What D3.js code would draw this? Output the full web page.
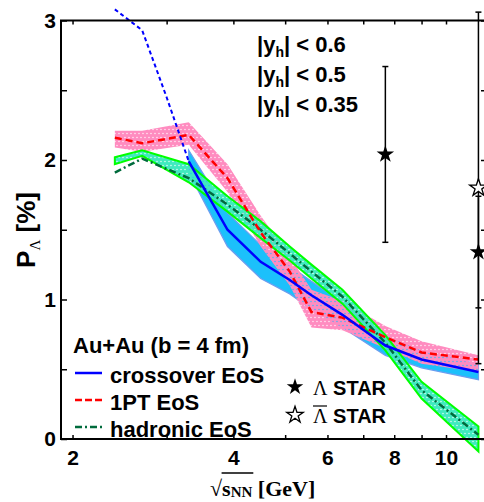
<!DOCTYPE html><html><head><meta charset="utf-8">
<script src="https://cdnjs.cloudflare.com/ajax/libs/d3/7.8.5/d3.min.js"></script>
<style>
body { margin: 0; background: #fff; }
text { font-family: "Liberation Sans", Arial, sans-serif; font-weight: bold; fill: #000; }
</style>
</head>
<body><svg id="chart"></svg>
<script>

// crossover EoS (dashed part at low energy, solid + band above)
var eCrossDash = [2.4, 2.7, 3.0, 3.3],
    pCrossDash = [3.08, 2.93, 2.45, 1.99];
var eCross  = [3.3, 3.9, 4.5, 5.1, 5.6, 6.4, 7.7, 9.0, 11.5],
    pCross  = [1.99, 1.50, 1.27, 1.14, 1.03, 0.89, 0.67, 0.57, 0.48],
    loCross = [1.91, 1.38, 1.15, 1.04, 0.93, 0.80, 0.60, 0.51, 0.425],
    hiCross = [2.07, 1.62, 1.39, 1.24, 1.13, 0.98, 0.74, 0.63, 0.535];

// 1PT EoS
var e1pt  = [2.4, 2.7, 3.3, 3.9, 4.5, 5.1, 5.6, 6.4, 7.7, 9.0, 11.5],
    p1pt  = [2.16, 2.12, 2.18, 1.87, 1.48, 1.20, 0.91, 0.87, 0.73, 0.62, 0.57],
    lo1pt = [2.09, 2.06, 2.11, 1.77, 1.38, 1.10, 0.80, 0.78, 0.65, 0.54, 0.48],
    hi1pt = [2.21, 2.21, 2.27, 1.97, 1.60, 1.31, 1.07, 0.99, 0.81, 0.70, 0.60];

// hadronic EoS
var eHad  = [2.4, 2.7, 3.3, 3.9, 4.5, 5.1, 5.6, 6.4, 7.7, 9.0, 11.5],
    pHad  = [1.91, 2.01, 1.87, 1.68, 1.50, 1.33, 1.20, 1.02, 0.69, 0.35, 0.03],
    loHad = [1.97, 2.03, 1.84, 1.63, 1.44, 1.28, 1.15, 0.97, 0.635, 0.29, -0.09],
    hiHad = [2.02, 2.07, 1.97, 1.74, 1.56, 1.38, 1.25, 1.07, 0.745, 0.41, 0.09];

// STAR data
var starE      = [7.7, 11.5],
    starLam    = [2.04, 1.34],
    starLamErr = [0.63, 0.40];
var starBarE      = [11.5],
    starLamBar    = [1.80],
    starLamBarErr = [1.26];

var xTicks  = [2, 3, 4, 5, 6, 7, 8, 9, 10],
    xLabels = [2, 4, 6, 8, 10];
var yTicks  = [0, 0.5, 1, 1.5, 2, 2.5, 3],
    yLabels = [0, 1, 2, 3];
var yhCuts = ["0.6", "0.5", "0.35"];
var modelNames = ["crossover EoS", "1PT EoS", "hadronic EoS"];

var W = 484, H = 502;
var svg = d3.select("#chart").attr("width", W).attr("height", H);

var x = d3.scaleLog().domain([1.903, 11.83]).range([61, 485]);
var y = d3.scaleLinear().domain([0, 3]).range([439, 20.5]);

function rows(e, p, lo, hi) {
  return e.map(function(d, i) { return {e: d, p: p[i], lo: lo ? lo[i] : 0, hi: hi ? hi[i] : 0}; });
}
var cross = rows(eCross, pCross, loCross, hiCross),
    crossDash = rows(eCrossDash, pCrossDash),
    pt1 = rows(e1pt, p1pt, lo1pt, hi1pt),
    had = rows(eHad, pHad, loHad, hiHad);

// dotted mask (holes in the band fill)
var defs = svg.append("defs");
var pat = defs.append("pattern").attr("id", "dotsP")
  .attr("patternUnits", "userSpaceOnUse").attr("width", 4).attr("height", 8);
pat.append("rect").attr("width", 4).attr("height", 8).attr("fill", "white");
pat.append("circle").attr("cx", 1).attr("cy", 1.5).attr("r", 0.65).attr("fill", "black");
pat.append("circle").attr("cx", 3).attr("cy", 5.5).attr("r", 0.65).attr("fill", "black");
defs.append("mask").attr("id", "dotMask")
  .attr("maskUnits", "userSpaceOnUse").attr("x", 0).attr("y", 0).attr("width", W).attr("height", H)
  .append("rect").attr("width", W).attr("height", H).attr("fill", "url(#dotsP)");

var area = d3.area().x(function(d) { return x(d.e); })
  .y0(function(d) { return y(d.lo); }).y1(function(d) { return y(d.hi); });
var line = d3.line().x(function(d) { return x(d.e); }).y(function(d) { return y(d.p); });

// bands
svg.append("path").datum(cross).attr("d", area)
  .attr("fill", "#1cc0fb").attr("stroke", "#6a9ef0").attr("stroke-width", 1.3);
svg.append("path").datum(pt1).attr("d", area)
  .attr("fill", "#ff8cc0").attr("mask", "url(#dotMask)");
svg.append("path").datum(had).attr("d", area)
  .attr("fill", "#40eabf").attr("mask", "url(#dotMask)");
svg.append("path").datum(had).attr("d", area)
  .attr("fill", "none").attr("stroke", "#00ff00").attr("stroke-width", 2);

// lines
svg.append("path").datum(had).attr("d", line)
  .attr("fill", "none").attr("stroke", "#006b3c").attr("stroke-width", 2.5)
  .attr("stroke-dasharray", "7,3,2,3");
svg.append("path").datum(pt1).attr("d", line)
  .attr("fill", "none").attr("stroke", "#ff0000").attr("stroke-width", 2.5)
  .attr("stroke-dasharray", "7,4");
svg.append("path").datum(cross).attr("d", line)
  .attr("fill", "none").attr("stroke", "#0000ff").attr("stroke-width", 2.5);
svg.append("path").datum(crossDash).attr("d", line)
  .attr("fill", "none").attr("stroke", "#0000ff").attr("stroke-width", 2)
  .attr("stroke-dasharray", "4,3");

// axes
function styleAxis(g) {
  g.select(".domain").remove();
  g.attr("font-size", 21).attr("font-family", "Liberation Sans, Arial, sans-serif");
  g.selectAll(".tick line").attr("stroke", "#000").attr("stroke-width", 1.5);
}
svg.append("g").attr("transform", "translate(0,439)")
  .call(d3.axisBottom(x).tickValues(xTicks).tickSize(-4).tickSizeOuter(0).tickPadding(11)
    .tickFormat(function(d) { return xLabels.indexOf(d) >= 0 ? d : ""; }))
  .call(styleAxis);
svg.append("g").attr("transform", "translate(0,20.5)")
  .call(d3.axisTop(x).tickValues(xTicks).tickSize(-4).tickSizeOuter(0).tickFormat(""))
  .call(styleAxis);
svg.append("g").attr("transform", "translate(61,0)")
  .call(d3.axisLeft(y).tickValues(yTicks).tickSize(-6).tickSizeOuter(0).tickPadding(5)
    .tickFormat(function(d) { return yLabels.indexOf(d) >= 0 ? d : ""; }))
  .call(styleAxis);
svg.append("g").attr("transform", "translate(485,0)")
  .call(d3.axisRight(y).tickValues(yTicks).tickSize(-4).tickSizeOuter(0).tickFormat(""))
  .call(styleAxis);

svg.append("rect").attr("x", 61).attr("y", 20.5).attr("width", 424).attr("height", 418.5)
  .attr("fill", "none").attr("stroke", "#000").attr("stroke-width", 2);

// STAR points with error bars
var star = d3.symbol().type(d3.symbolStar).size(95);
function errBar(e, v, err) {
  var g = svg.append("g").attr("stroke", "#000").attr("stroke-width", 1.5);
  g.append("line").attr("x1", x(e)).attr("x2", x(e)).attr("y1", y(v - err)).attr("y2", y(v + err));
  g.append("line").attr("x1", x(e) - 3).attr("x2", x(e) + 3).attr("y1", y(v - err)).attr("y2", y(v - err));
  g.append("line").attr("x1", x(e) - 3).attr("x2", x(e) + 3).attr("y1", y(v + err)).attr("y2", y(v + err));
}
starE.forEach(function(e, i) { errBar(e, starLam[i], starLamErr[i]); });
starBarE.forEach(function(e, i) { errBar(e, starLamBar[i], starLamBarErr[i]); });
starE.forEach(function(e, i) {
  svg.append("path").attr("d", star).attr("transform", "translate(" + x(e) + "," + y(starLam[i]) + ")")
    .attr("fill", "#000");
});
starBarE.forEach(function(e, i) {
  svg.append("path").attr("d", star).attr("transform", "translate(" + x(e) + "," + y(starLamBar[i]) + ")")
    .attr("fill", "#fff").attr("stroke", "#000").attr("stroke-width", 1.3);
});

// |y_h| cuts
yhCuts.forEach(function(c, i) {
  var t = svg.append("text").attr("x", 257).attr("y", 52 + 30 * i).attr("font-size", 22);
  t.append("tspan").text("|y");
  t.append("tspan").attr("font-size", 14).attr("dy", 5).text("h");
  t.append("tspan").attr("dy", -5).text("| < " + c);
});

// legend
svg.append("text").attr("x", 73).attr("y", 353).attr("font-size", 22).text("Au+Au (b = 4 fm)");
var legStyles = [
  {c: "#0000ff", dash: null},
  {c: "#ff0000", dash: "7,3"},
  {c: "#006b3c", dash: "7,3,2,3"}
];
modelNames.forEach(function(n, i) {
  var yy = 373 + 27 * i;
  svg.append("line").attr("x1", 75).attr("x2", 102).attr("y1", yy).attr("y2", yy)
    .attr("stroke", legStyles[i].c).attr("stroke-width", 2.5)
    .attr("stroke-dasharray", legStyles[i].dash);
  svg.append("text").attr("x", 110).attr("y", yy + 10).attr("font-size", 22).text(n);
});

var legStar = d3.symbol().type(d3.symbolStar).size(85);
svg.append("path").attr("d", legStar).attr("transform", "translate(295,387)").attr("fill", "#000");
svg.append("path").attr("d", legStar).attr("transform", "translate(295,415)")
  .attr("fill", "#fff").attr("stroke", "#000").attr("stroke-width", 1.3);
[["Λ", 395, false], ["Λ", 423, true]].forEach(function(r) {
  var t = svg.append("text").attr("x", 313).attr("y", r[1]).attr("font-size", 20);
  t.append("tspan").attr("font-family", "Liberation Serif, Times New Roman, serif")
    .attr("font-weight", "normal").text(r[0]);
  t.append("tspan").text(" STAR");
  if (r[2]) {
    svg.append("line").attr("x1", 313).attr("x2", 327).attr("y1", r[1] - 17).attr("y2", r[1] - 17)
      .attr("stroke", "#000").attr("stroke-width", 1.2);
  }
});

// axis titles
var yt = svg.append("text").attr("transform", "translate(35,230) rotate(-90)")
  .attr("text-anchor", "middle").attr("font-size", 26);
yt.append("tspan").text("P");
yt.append("tspan").attr("font-size", 15).attr("dy", 5)
  .attr("font-family", "Liberation Serif, Times New Roman, serif").attr("font-weight", "normal").text("Λ");
yt.append("tspan").attr("dy", -5).text(" [%]");

var serif = "Liberation Serif, Times New Roman, serif";
var xt = svg.append("text").attr("x", 210).attr("y", 496).attr("font-size", 22)
  .style("font-family", serif);
xt.append("tspan").attr("font-weight", "normal").text("√");
xt.append("tspan").text("s");
xt.append("tspan").attr("font-size", 15).attr("dy", 1).text("NN");
xt.append("tspan").attr("dy", -1).text(" [GeV]");
var node = xt.node();
var ox1 = node.getEndPositionOfChar(0).x, ox2 = node.getEndPositionOfChar(3).x;
svg.append("line").attr("x1", ox1 - 0.5).attr("x2", ox2 + 1).attr("y1", 473).attr("y2", 473)
  .attr("stroke", "#000").attr("stroke-width", 1.3);

</script>
</body></html>
